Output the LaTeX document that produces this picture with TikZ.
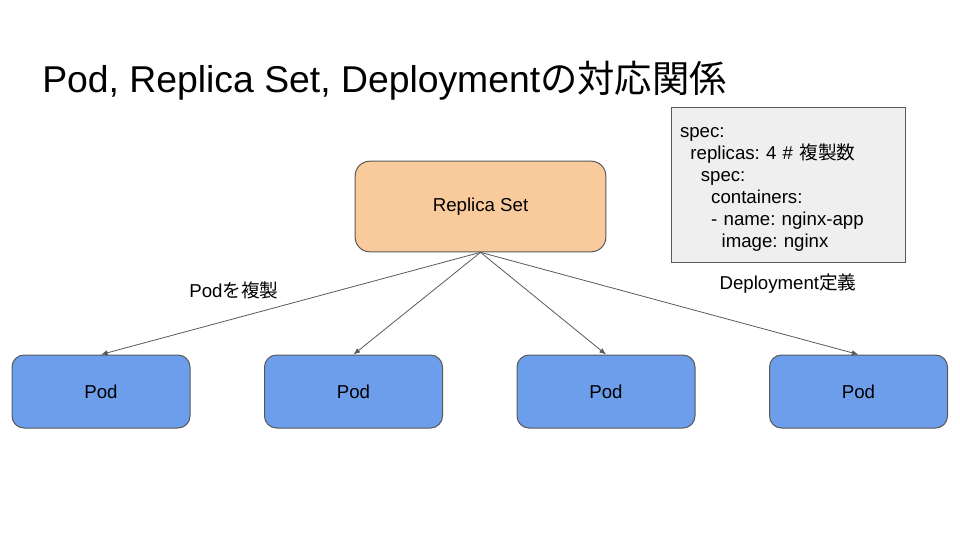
\documentclass[tikz,border=0pt]{standalone}
\usepackage{fontspec}
\setmainfont{Liberation Sans}
\newfontfamily\jp{Noto Sans CJK JP}
\usepackage{tikz}
\usetikzlibrary{arrows.meta,positioning}
\frenchspacing
\definecolor{rsorange}{HTML}{F9CB9C}
\definecolor{podblue}{HTML}{6D9EEB}
\definecolor{specgray}{HTML}{EFEFEF}
\definecolor{edgegray}{HTML}{595959}
\tikzset{
    x=0.75pt, y=-0.75pt,
    conn/.style = {-{Latex[length=5pt,width=4pt]}, draw=edgegray, line width=0.6pt},
    rset/.style = {rectangle, rounded corners=11pt, draw=edgegray, line width=0.75pt, fill=rsorange,
                   minimum width=188pt, minimum height=68pt, font=\fontsize{14pt}{16pt}\selectfont},
    pod/.style = {rectangle, rounded corners=9pt, draw=edgegray, line width=0.75pt, fill=podblue,
                  minimum width=133.5pt, minimum height=54.75pt, font=\fontsize{14pt}{16pt}\selectfont},
    yaml/.style = {rectangle, draw=edgegray, line width=0.75pt, fill=specgray, align=left,
                   text width=162pt, inner xsep=6.75pt, minimum height=116.25pt,
                   font=\fontsize{14pt}{16.5pt}\selectfont},
    lbl/.style = {font=\fontsize{14pt}{16pt}\selectfont, inner sep=0pt},
}
\newcommand{\ind}[1]{\hspace*{#1}}

\begin{document}
\begin{tikzpicture}
\useasboundingbox (0,0) rectangle (960,540);

    % title
    \node[anchor=base west, inner sep=0pt, font=\fontsize{28pt}{31pt}\selectfont] (title) at (42,92)
        {Pod, Replica Set, Deployment{\jp の対応関係}};

    % replica set and pods
    \node[rset] (rs) at (480.5,206.5) {Replica Set};
    \node[pod] (pod1) at (101,391.5) {Pod};
    \node[pod] (pod2) at (353.5,391.5) {Pod};
    \node[pod] (pod3) at (606,391.5) {Pod};
    \node[pod] (pod4) at (858.5,391.5) {Pod};

    % deployment spec
    \node[yaml] (spec) at (788,184.5) {\rule{0pt}{15pt}spec:\\
        \ind{7.8pt}replicas: 4 \# {\jp 複製数}\\
        \ind{15.6pt}spec:\\
        \ind{23.4pt}containers:\\
        \ind{23.4pt}- name: nginx-app\\
        \ind{31.2pt}image: nginx};

    % labels
    \node[lbl] (copy) at (234,290) {Pod{\jp を複製}};
    \node[lbl] (deflbl) at (788,284) {Deployment{\jp 定義}};

    % edges
    \path (rs.south) edge[conn] (pod1.north);
    \path (rs.south) edge[conn] (pod2.north);
    \path (rs.south) edge[conn] (pod3.north);
    \path (rs.south) edge[conn] (pod4.north);

\end{tikzpicture}
\end{document}
